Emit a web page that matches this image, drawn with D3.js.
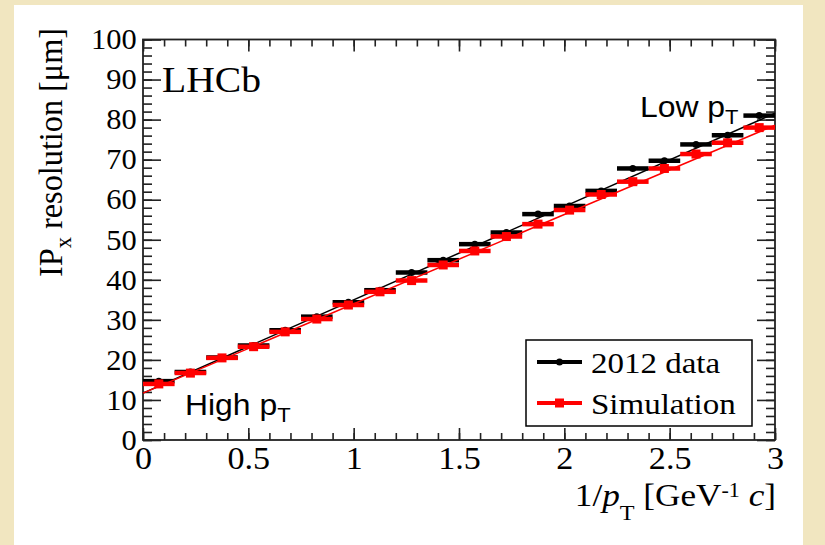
<!DOCTYPE html>
<html lang="en">
<head>
<meta charset="UTF-8">
<title>IPx resolution vs 1/pT</title>
<script src="https://cdn.jsdelivr.net/npm/d3@7"></script>
<style>
    body { margin: 0; background: #f1e6c0; }
    svg text { font-family: "Liberation Serif", "Times New Roman", serif; fill: #000; }
    svg text.sans { font-family: "Liberation Sans", Arial, sans-serif; }
    .axis path { display: none; }
    .axis line { stroke: #222; stroke-width: 1.6; }
</style>
</head>
<body>
<svg id="chart" width="825" height="545"></svg>
<script>
    // bin centres in 1/pT [GeV^-1 c], bin half width 0.075
    var binCentres = [0.075, 0.225, 0.375, 0.525, 0.675, 0.825, 0.975, 1.125, 1.275, 1.425,
                      1.575, 1.725, 1.875, 2.025, 2.175, 2.325, 2.475, 2.625, 2.775, 2.925];
    var binHalf = 0.075;
    // IPx resolution [um]
    var data2012 = [14.7, 17.0, 20.6, 23.6, 27.4, 30.8, 34.4, 37.4, 41.8, 44.9,
                    48.9, 51.8, 56.4, 58.4, 62.2, 67.8, 69.7, 73.8, 76.1, 81.0];
    var simulation = [14.0, 16.7, 20.5, 23.3, 27.0, 30.2, 33.7, 37.0, 39.8, 43.7,
                      47.2, 50.8, 53.9, 57.4, 61.3, 64.5, 67.8, 71.4, 74.2, 78.0];
    // linear fits: [intercept, slope]
    var fit2012 = [11.7, 23.3];
    var fitSim = [11.7, 22.3];
    var xTicks = [0, 0.5, 1, 1.5, 2, 2.5, 3];
    var yTicks = [0, 10, 20, 30, 40, 50, 60, 70, 80, 90, 100];

    var svg = d3.select("#chart");
    var fLeft = 143, fRight = 775, fTop = 39.5, fBottom = 440;

    // page background: white sheet on a cream backdrop
    svg.append("rect").attr("width", 825).attr("height", 545).attr("fill", "#f1e6c0");
    svg.append("rect").attr("x", 14).attr("y", 5).attr("width", 789).attr("height", 540).attr("fill", "#fff");

    var x = d3.scaleLinear().domain([0, 3]).range([fLeft, fRight]);
    var y = d3.scaleLinear().domain([0, 100]).range([fBottom, fTop]);

    // axes, ticks pointing inwards like ROOT
    function addAxis(axis, tx, ty) {
        return svg.append("g").attr("class", "axis").attr("transform", "translate(" + tx + "," + ty + ")").call(axis);
    }
    addAxis(d3.axisBottom(x).tickValues(x.ticks(30)).tickSize(-7).tickFormat(""), 0, fBottom);
    addAxis(d3.axisTop(x).tickValues(x.ticks(30)).tickSize(-7).tickFormat(""), 0, fTop);
    addAxis(d3.axisTop(x).tickValues(xTicks).tickSize(-12).tickFormat(""), 0, fTop);
    var xa = addAxis(d3.axisBottom(x).tickValues(xTicks).tickSize(-12).tickPadding(7).tickFormat(function (d) { return String(d); }), 0, fBottom);
    xa.selectAll("text").style("font-size", "31px").attr("transform", "scale(1.1,1)");

    addAxis(d3.axisLeft(y).tickValues(y.ticks(50)).tickSize(-9).tickFormat(""), fLeft, 0);
    addAxis(d3.axisRight(y).tickValues(y.ticks(50)).tickSize(-9).tickFormat(""), fRight, 0);
    addAxis(d3.axisRight(y).tickValues(yTicks).tickSize(-18).tickFormat(""), fRight, 0);
    var ya = addAxis(d3.axisLeft(y).tickValues(yTicks).tickSize(-18).tickPadding(6).tickFormat(function (d) { return String(d); }), fLeft, 0);
    ya.selectAll("text").style("font-size", "29px").attr("transform", "scale(1.05,1)");

    // frame
    svg.append("rect").attr("x", fLeft).attr("y", fTop).attr("width", fRight - fLeft).attr("height", fBottom - fTop)
        .attr("fill", "none").attr("stroke", "#222").attr("stroke-width", 1.8);

    var line = d3.line().x(function (d) { return x(d[0]); }).y(function (d) { return y(d[1]); });

    function drawSeries(values, fit, color, marker) {
        var g = svg.append("g");
        var pts = binCentres.map(function (c, i) { return { c: c, v: values[i] }; });
        g.selectAll("line.bar").data(pts).enter().append("line")
            .attr("x1", function (d) { return x(d.c - binHalf); })
            .attr("x2", function (d) { return x(d.c + binHalf); })
            .attr("y1", function (d) { return y(d.v); })
            .attr("y2", function (d) { return y(d.v); })
            .attr("stroke", color).attr("stroke-width", 4.5);
        if (marker === "circle") {
            g.selectAll("circle").data(pts).enter().append("circle")
                .attr("cx", function (d) { return x(d.c); })
                .attr("cy", function (d) { return y(d.v); })
                .attr("r", 3.5).attr("fill", color);
        } else {
            g.selectAll("rect").data(pts).enter().append("rect")
                .attr("x", function (d) { return x(d.c) - 4.5; })
                .attr("y", function (d) { return y(d.v) - 4.5; })
                .attr("width", 9).attr("height", 9).attr("fill", color);
        }
        g.append("path")
            .attr("d", line([[0, fit[0]], [3, fit[0] + 3 * fit[1]]]))
            .attr("stroke", color).attr("stroke-width", 1.5).attr("fill", "none");
    }
    drawSeries(data2012, fit2012, "#000", "circle");
    drawSeries(simulation, fitSim, "#ff0000", "square");

    // text helper, glyphs slightly stretched horizontally as in the original
    function label(tx, ty, size, cls) {
        return svg.append("text").attr("class", cls || null)
            .attr("transform", "translate(" + tx + "," + ty + ") scale(1.1,1)")
            .style("font-size", size + "px");
    }
    label(162, 92, 36).text("LHCb");

    var low = label(640, 117, 29, "sans");
    low.append("tspan").text("Low p");
    low.append("tspan").attr("dy", 7).style("font-size", "20px").text("T");
    var high = label(185, 415, 29, "sans");
    high.append("tspan").text("High p");
    high.append("tspan").attr("dy", 7).style("font-size", "20px").text("T");

    // legend
    svg.append("rect").attr("x", 526).attr("y", 340).attr("width", 226).attr("height", 86)
        .attr("fill", "#fff").attr("stroke", "#000").attr("stroke-width", 1.5);
    var legend = [
        { name: "2012 data", color: "#000", marker: "circle", ly: 362 },
        { name: "Simulation", color: "#ff0000", marker: "square", ly: 403 }
    ];
    legend.forEach(function (e) {
        svg.append("line").attr("x1", 537).attr("x2", 582).attr("y1", e.ly).attr("y2", e.ly)
            .attr("stroke", e.color).attr("stroke-width", 4);
        if (e.marker === "circle") {
            svg.append("circle").attr("cx", 559.5).attr("cy", e.ly).attr("r", 3.5).attr("fill", e.color);
        } else {
            svg.append("rect").attr("x", 555).attr("y", e.ly - 4.5).attr("width", 9).attr("height", 9).attr("fill", e.color);
        }
        label(591, e.ly + 10.5, 30).text(e.name);
    });

    // axis titles
    var yt = svg.append("text")
        .attr("transform", "translate(62,152.5) scale(1.1,1) rotate(-90)")
        .attr("text-anchor", "middle")
        .attr("textLength", 249).attr("lengthAdjust", "spacingAndGlyphs")
        .style("font-size", "30px");
    yt.append("tspan").text("IP");
    yt.append("tspan").attr("dy", 8).style("font-size", "21px").text("x");
    yt.append("tspan").attr("dy", -8).text(" resolution [\u03bcm]");

    var xt = svg.append("text")
        .attr("transform", "translate(776,506) scale(1.1,1)")
        .attr("text-anchor", "end")
        .style("font-size", "32px");
    xt.append("tspan").text("1/");
    xt.append("tspan").style("font-style", "italic").text("p");
    xt.append("tspan").attr("dy", 14).style("font-size", "22px").text("T");
    xt.append("tspan").attr("dy", -14).text(" [GeV");
    xt.append("tspan").attr("dy", -9).style("font-size", "20px").text("-1");
    xt.append("tspan").attr("dy", 9).text(" ");
    xt.append("tspan").style("font-style", "italic").text("c");
    xt.append("tspan").text("]");
</script>
</body>
</html>
